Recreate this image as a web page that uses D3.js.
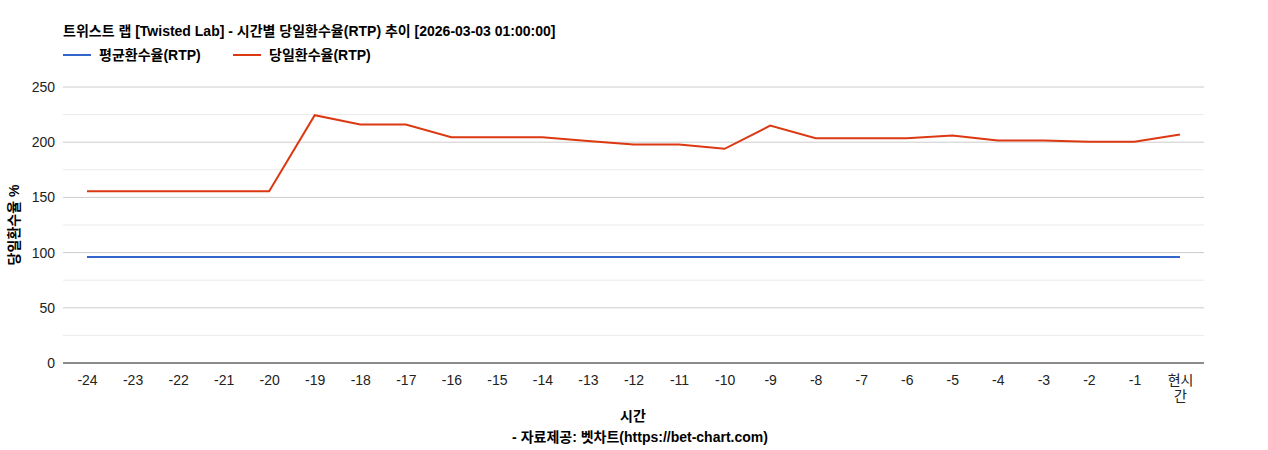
<!DOCTYPE html><html><head><meta charset="utf-8"><script src="https://cdn.jsdelivr.net/npm/d3@7"></script>
<style>body{margin:0;background:#fff}text{font-family:"Liberation Sans","Noto Sans CJK KR",sans-serif}</style></head><body><svg id="c" width="1268" height="450"></svg><script>
const categories=["-24","-23","-22","-21","-20","-19","-18","-17","-16","-15","-14","-13","-12","-11","-10","-9","-8","-7","-6","-5","-4","-3","-2","-1","현시간"];
const avgRTP=[96,96,96,96,96,96,96,96,96,96,96,96,96,96,96,96,96,96,96,96,96,96,96,96,96];
const dailyRTP=[155.5,155.5,155.5,155.5,155.5,224.5,216,216,204.5,204.5,204.5,201,198,198,194,215,203.5,203.5,203.5,206,201.5,201.5,200.5,200.5,207];
const yTicks=[0,50,100,150,200,250];
const svg=d3.select("#c");
const L=63,R=1204,T=87,B=363;
const x=d3.scalePoint().domain(categories).range([87,1180]);
const y=d3.scaleLinear().domain([0,250]).range([B,T]);
d3.range(25,250,50).forEach(v=>svg.append("line").attr("x1",L).attr("x2",R).attr("y1",y(v)).attr("y2",y(v)).attr("stroke","#ebebeb"));
yTicks.forEach(v=>svg.append("line").attr("x1",L).attr("x2",R).attr("y1",y(v)).attr("y2",y(v)).attr("stroke","#cccccc"));
svg.append("g").attr("transform",`translate(${L},0)`).call(d3.axisLeft(y).tickValues(yTicks).tickSize(0).tickPadding(8)).call(g=>g.select(".domain").remove()).selectAll("text").attr("font-size",14).attr("fill","#222");
svg.append("line").attr("x1",L).attr("x2",R).attr("y1",B).attr("y2",B).attr("stroke","#333");
const xa=svg.append("g").attr("transform",`translate(0,${B})`).call(d3.axisBottom(x).tickSize(0).tickPadding(12));
xa.select(".domain").remove();
xa.selectAll("text").attr("font-size",14).attr("fill","#222").each(function(d){if(d==="현시간"){const t=d3.select(this);t.text(null);t.append("tspan").attr("x",0).attr("dy","0.71em").text("현시");t.append("tspan").attr("x",0).attr("dy","1.15em").text("간");}});
const line=d3.line().x((d,i)=>x(categories[i])).y(d=>y(d));
svg.append("path").datum(avgRTP).attr("d",line).attr("fill","none").attr("stroke","#3366cc").attr("stroke-width",2);
svg.append("path").datum(dailyRTP).attr("d",line).attr("fill","none").attr("stroke","#dc3912").attr("stroke-width",2);
svg.append("text").attr("x",63).attr("y",36).attr("font-size",14).attr("font-weight","bold").text("트위스트 랩 [Twisted Lab] - 시간별 당일환수율(RTP) 추이 [2026-03-03 01:00:00]");
[["평균환수율(RTP)","#3366cc",63],["당일환수율(RTP)","#dc3912",233]].forEach(([t,c,x0])=>{svg.append("line").attr("x1",x0).attr("x2",x0+28).attr("y1",55).attr("y2",55).attr("stroke",c).attr("stroke-width",2);svg.append("text").attr("x",x0+36).attr("y",60).attr("font-size",14).attr("font-weight","bold").text(t);});
svg.append("text").attr("transform","translate(19,225) rotate(-90)").attr("text-anchor","middle").attr("font-size",14).attr("font-weight","bold").text("당일환수율 %");
svg.append("text").attr("x",633).attr("y",421).attr("text-anchor","middle").attr("font-size",14).attr("font-weight","bold").text("시간");
svg.append("text").attr("x",640).attr("y",442).attr("text-anchor","middle").attr("font-size",14).attr("font-weight","bold").text("- 자료제공: 벳차트(https://bet-chart.com)");
</script></body></html>
